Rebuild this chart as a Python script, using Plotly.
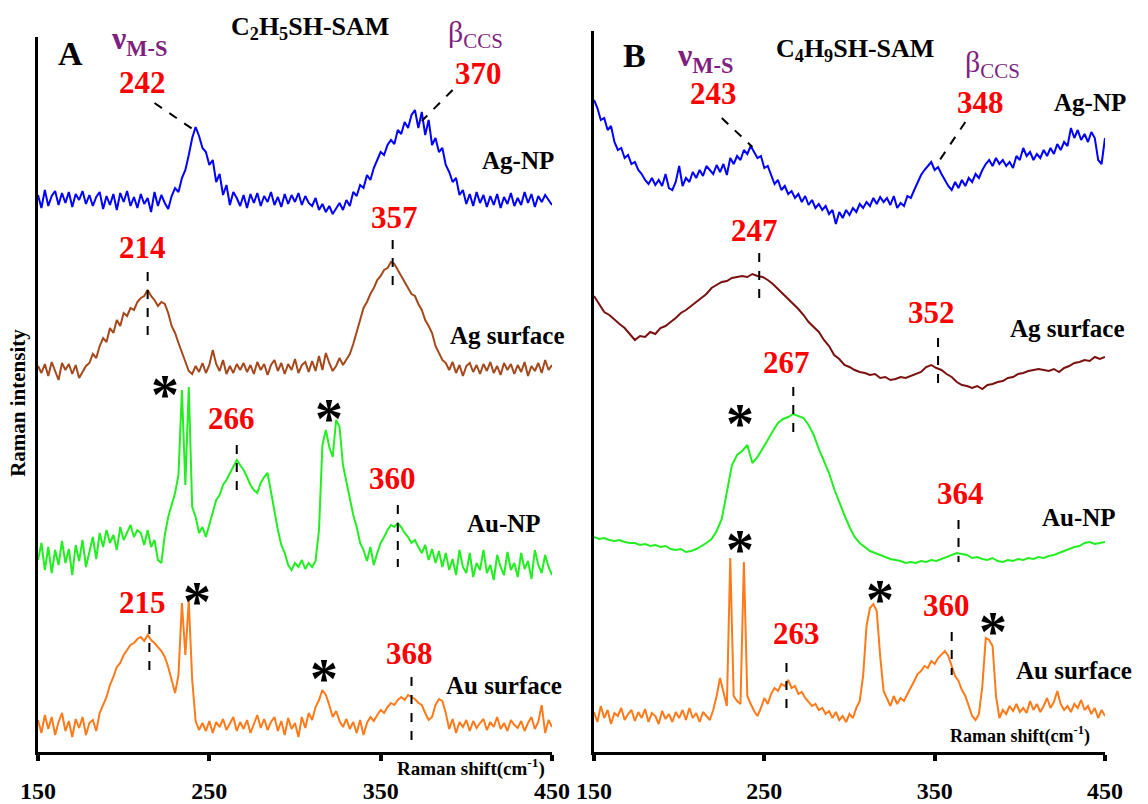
import plotly.graph_objects as go

# ---------------- data (Raman intensity, arbitrary units) ----------------
x_A = list(range(150, 451, 2))

agnp_A = [5, -8, 10, -6, 4, 9, -5, 7, -3, 8,
          -7, 6, 0, 9, -4, 5, -6, 3, 8, -9,
          4, -5, 6, -10, 7, -2, 9, -6, 3, -8,
          6, -4, 2, -12, 8, -6, 5, -3, -9, 4,
          12, 8, 22, 30, 45, 62, 73, 64, 52, 48,
          35, 40, 18, 26, 5, 15, -5, 8, 2, -6,
          5, -8, 6, -3, 7, -6, 4, -2, 8, -5,
          3, -7, 6, -4, 5, -2, 7, -5, 4, -3,
          -6, 2, -10, -4, -12, -6, -14, -8, -3, -10,
          0, -6, 8, 4, 15, 12, 25, 20, 32, 40,
          48, 45, 55, 60, 56, 70, 66, 78, 72, 85,
          90, 72, 88, 65, 80, 55, 62, 48, 52, 35,
          28, 18, 22, 5, 10, -4, 6, -6, 8, -3,
          5, -7, 4, -5, 6, -8, 3, -4, 7, -6,
          2, -5, 8, -3, 6, -7, 4, -2, 5, 0,
          -5]

agsurf_A = [2, -5, 4, -8, 6, -3, -12, 5, -2, 4,
            -6, 3, -10, -4, 2, 5, 14, 10, 22, 30,
            26, 40, 35, 48, 42, 55, 52, 60, 58, 66,
            70, 72, 78, 72, 68, 62, 66, 64, 55, 42,
            35, 25, 15, 5, -3, -6, 2, -4, 5, -5,
            3, 18, 4, -3, 8, -6, 2, -5, 4, -2,
            5, -4, 3, -6, 6, -2, 4, -7, 3, 8,
            -3, 5, -6, 4, -2, 9, -5, 3, 6, -4,
            7, -3, 12, -2, 15, 5, -3, 2, 10, 3,
            8, 14, 24, 35, 48, 60, 66, 74, 80, 88,
            92, 98, 100, 106, 104, 98, 92, 86, 80, 74,
            72, 64, 58, 48, 42, 35, 22, 15, 8, 5,
            -2, 6, -5, 3, -8, 2, 5, -4, 3, -6,
            4, -3, 6, -5, 2, -7, 5, -2, 4, -6,
            3, -4, 6, -8, 2, -3, 5, -5, 8, -2,
            3]

aunp_A = [-5, 12, -15, 8, -18, 5, -10, 14, -8, 6,
          -20, 10, -6, 15, -12, 4, 18, -4, 22, 8,
          25, 12, 20, 5, 28, 15, 22, 30, 18, 25,
          22, 10, 25, 8, 15, -5, -8, 20, 38, 50,
          62, 80, 165, 70, 168, 48, 38, 22, 28, 18,
          30, 42, 55, 60, 70, 75, 82, 88, 95, 90,
          85, 78, 70, 65, 62, 72, 78, 82, 62, 42,
          25, 10, 2, -10, -15, -8, -12, -5, -14, -8,
          -12, -6, 25, 110, 125, 108, 98, 135, 128, 90,
          72, 58, 40, 28, 12, 5, -6, 8, -10, 2,
          12, 18, 25, 30, 28, 32, 28, 22, 18, 12,
          15, 8, 2, 10, -5, 6, -8, 4, -12, 2,
          -15, -4, -20, 5, -12, -18, 2, -22, -8, -15,
          5, -18, -10, -25, 0, -12, -20, 3, -15, -8,
          -22, 2, -14, -6, -24, 5, -10, -18, 0, -12,
          -20]

ausurf_A = [5, -8, 10, -4, 8, -10, 3, 12, -6, 4,
            -12, 6, -3, 8, -10, 2, 5, -6, 12, 20,
            28, 40, 48, 58, 62, 70, 75, 80, 82, 86,
            88, 84, 90, 85, 82, 78, 74, 68, 58, 45,
            32, 50, 122, 70, 124, 45, 4, -5, 2, -6,
            4, -8, 3, -2, 6, -5, 2, 8, -6, 3,
            -4, 5, -8, 2, 10, -3, 6, -5, 3, 8,
            -6, 4, -10, 7, -4, 2, -12, 8, -3, 12,
            5, 18, 25, 35, 30, 20, 8, 14, 4, -2,
            6, -4, 3, -8, 5, -10, 2, 8, 4, 10,
            15, 12, 18, 22, 20, 25, 28, 25, 30, 28,
            26, 22, 20, 12, 5, 8, 20, 26, 24, 12,
            -4, 6, -8, 3, -2, 5, -6, 4, -3, 2,
            6, -5, 3, -2, 8, -4, 2, -6, 5, 0,
            -3, 4, -6, 2, 8, -4, 3, 20, -8, 5,
            -2]

x_B2 = list(range(150, 451, 2))
x_B3 = list(range(150, 451, 3))

agnp_B = [100, 92, 80, 82, 70, 74, 58, 50, 52, 42,
          45, 36, 38, 30, 26, 20, 16, 22, 15, 20,
          14, 26, 12, 10, 18, 34, 14, 22, 18, 28,
          22, 30, 24, 34, 30, 26, 35, 28, 36, 25,
          42, 36, 44, 40, 50, 46, 54, 48, 42, 44,
          32, 34, 24, 16, 20, 10, 14, 6, 9, 2,
          6, -2, 4, -5, 0, -8, -4, -10, -6, -14,
          -10, -24, -12, -18, -10, -15, -8, -12, -4, -8,
          -2, -6, 2, -4, 3, -2, 2, -5, 4, -8,
          -3, -6, 4, 2, 10, 18, 25, 30, 34, 38,
          30, 33, 26, 20, 14, 10, 18, 12, 20, 14,
          22, 18, 26, 22, 30, 36, 40, 34, 42, 36,
          40, 34, 38, 32, 44, 40, 52, 44, 48, 40,
          46, 42, 50, 44, 52, 46, 56, 50, 58, 54,
          72, 62, 70, 60, 66, 58, 68, 62, 40, 36,
          62]

agsurf_B = [74, 66, 58, 55, 50, 46, 42, 36, 30, 34,
            33, 38, 36, 42, 44, 48, 52, 57, 60, 64,
            68, 72, 76, 82, 85, 88, 89, 92, 93, 94,
            93, 96, 94, 93, 90, 86, 81, 76, 72, 66,
            61, 55, 48, 43, 38, 30, 24, 15, 11, 5,
            3, 0, -2, -3, -5, -4, -8, -7, -10, -9,
            -7, -8, -6, -4, -2, 3, 5, 2, 0, -4,
            -7, -12, -15, -16, -18, -16, -19, -15, -14, -12,
            -11, -8, -7, -4, -3, -1, 0, 1, 0, -1,
            1, -2, 2, 4, 7, 8, 10, 9, 13, 11,
            13]

aunp_B = [18, 16, 17, 15, 14, 15, 13, 12, 12, 10,
          11, 9, 10, 8, 9, 6, 5, 6, 3, 4,
          6, 9, 12, 16, 24, 36, 62, 90, 100, 104,
          110, 92, 98, 106, 115, 124, 132, 136, 138, 141,
          139, 137, 130, 120, 106, 94, 82, 66, 52, 40,
          28, 18, 12, 8, 4, 2, 0, -2, -4, -5,
          -6, -8, -7, -8, -6, -7, -5, -6, -4, -2,
          0, 2, 1, 0, -3, -2, -4, -5, -3, -6,
          -7, -5, -6, -4, -5, -3, -4, -2, -3, -1,
          0, 2, 4, 6, 8, 9, 12, 13, 11, 12,
          13]

ausurf_B = [4, -6, 10, -2, 6, -8, 3, 0, 8, -4,
            2, 6, -5, 4, -2, 7, -6, 3, 0, -8,
            5, -3, 2, -6, 4, -2, 6, -4, 8, -2,
            3, -6, 4, 0, -4, 6, 20, 38, 25, 10,
            158, 20, 15, 12, 154, 20, 12, 5, 0, 8,
            18, 12, 22, 28, 25, 32, 30, 36, 28, 30,
            22, 24, 18, 14, 10, 12, 6, 8, 2, 5,
            -2, 4, -4, 0, -6, 2, -2, 8, 15, 40,
            90, 108, 112, 105, 60, 25, 18, 10, 20, 12,
            18, 15, 22, 28, 35, 42, 45, 50, 48, 55,
            52, 58, 62, 65, 60, 50, 40, 35, 26, 20,
            10, 0, -4, 2, 30, 78, 76, 70, 20, -2,
            6, 2, 10, 5, 12, 4, 8, 3, 15, 6,
            12, 4, 10, 18, 8, 14, 25, 12, 6, 10,
            4, 12, 8, 16, 6, 10, 2, 8, -2, 6,
            0]

# stacking offsets of each spectrum
offset_A = {"Ag-NP": 552, "Ag surface": 384, "Au-NP": 197, "Au surface": 27}
offset_B = {"Ag-NP": 552, "Ag surface": 382, "Au-NP": 197, "Au surface": 36}

colors_A = {"Ag-NP": "#0000FF", "Ag surface": "#A5481C", "Au-NP": "#22EE22", "Au surface": "#FF7A1A"}
colors_B = {"Ag-NP": "#0000FF", "Ag surface": "#7A1010", "Au-NP": "#22EE22", "Au surface": "#FF7A1A"}

tick_vals = [150, 250, 350, 450]

FONT = "Liberation Serif"
RED = "#FF0000"
PURPLE = "#7F1F7F"

fig = go.Figure()

series_A = [("Ag-NP", x_A, agnp_A), ("Ag surface", x_A, agsurf_A),
            ("Au-NP", x_A, aunp_A), ("Au surface", x_A, ausurf_A)]
series_B = [("Ag-NP", x_B2, agnp_B), ("Ag surface", x_B3, agsurf_B),
            ("Au-NP", x_B3, aunp_B), ("Au surface", x_B2, ausurf_B)]

for name, xs, ys in series_A:
    fig.add_trace(go.Scatter(x=xs, y=[v + offset_A[name] for v in ys], mode="lines",
                             line=dict(color=colors_A[name], width=2), xaxis="x", yaxis="y",
                             showlegend=False, name=name))
for name, xs, ys in series_B:
    fig.add_trace(go.Scatter(x=xs, y=[v + offset_B[name] for v in ys], mode="lines",
                             line=dict(color=colors_B[name], width=2), xaxis="x2", yaxis="y2",
                             showlegend=False, name=name))

# ---------------- peak markers (dashed) ----------------
vlines_A = [(214, 480, 417), (357, 512, 462), (266, 307, 255), (360, 247, 185), (215, 127, 75), (368, 75, 12)]
leaders_A = [((218, 649), (241, 622)), ((392, 662), (374, 631))]
vlines_B = [(247, 499, 449), (352, 414, 369), (267, 365, 315), (364, 232, 190), (263, 89, 37), (360, 120, 77)]
leaders_B = [((225, 634), (243, 605)), ((368, 630), (351, 587))]

shapes = []
for (xv, y0, y1) in vlines_A:
    shapes.append(dict(type="line", xref="x", yref="y", x0=xv, x1=xv, y0=y0, y1=y1,
                       line=dict(color="black", width=2, dash="dash")))
for (p0, p1) in leaders_A:
    shapes.append(dict(type="line", xref="x", yref="y", x0=p0[0], y0=p0[1], x1=p1[0], y1=p1[1],
                       line=dict(color="black", width=2, dash="dash")))
for (xv, y0, y1) in vlines_B:
    shapes.append(dict(type="line", xref="x2", yref="y2", x0=xv, x1=xv, y0=y0, y1=y1,
                       line=dict(color="black", width=2, dash="dash")))
for (p0, p1) in leaders_B:
    shapes.append(dict(type="line", xref="x2", yref="y2", x0=p0[0], y0=p0[1], x1=p1[0], y1=p1[1],
                       line=dict(color="black", width=2, dash="dash")))

# ---------------- text ----------------
# (text, x, y, size, color) in data coordinates
texts_A = [
    ("<b>A</b>", 169, 699, 34, "black"),
    ("<b>242</b>", 211, 670, 31, RED),
    ("<b>370</b>", 407, 679, 31, RED),
    ("<b>Ag-NP</b>", 430, 592, 25, "black"),
    ("<b>214</b>", 211, 505, 31, RED),
    ("<b>357</b>", 358, 535, 31, RED),
    ("<b>Ag surface</b>", 424, 417, 25, "black"),
    ("<b>266</b>", 263, 334, 31, RED),
    ("<b>360</b>", 357, 274, 31, RED),
    ("<b>Au-NP</b>", 422, 229, 25, "black"),
    ("<b>215</b>", 211, 150, 31, RED),
    ("<b>368</b>", 367, 99, 31, RED),
    ("<b>Au surface</b>", 422, 67, 25, "black"),
]
stars_A = [(224, 369), (320, 345), (243, 162), (317, 85)]

texts_B = [
    ("<b>B</b>", 174, 697, 34, "black"),
    ("<b>ν<sub>M-S</sub></b>", 215, 695, 32, PURPLE),
    ("<b>C<sub>4</sub>H<sub>9</sub>SH-SAM</b>", 303, 702, 26, "black"),
    ("β<sub>CCS</sub>", 384, 688, 30, PURPLE),
    ("<b>243</b>", 220, 659, 31, RED),
    ("<b>348</b>", 377, 650, 31, RED),
    ("<b>Ag-NP</b>", 441, 650, 25, "black"),
    ("<b>247</b>", 244, 522, 31, RED),
    ("<b>352</b>", 348, 440, 31, RED),
    ("<b>Ag surface</b>", 428, 424, 25, "black"),
    ("<b>267</b>", 263, 390, 31, RED),
    ("<b>364</b>", 365, 259, 31, RED),
    ("<b>Au-NP</b>", 435, 235, 25, "black"),
    ("<b>360</b>", 357, 147, 31, RED),
    ("<b>263</b>", 269, 119, 31, RED),
    ("<b>Au surface</b>", 432, 82, 25, "black"),
    ("<b>Raman shift(cm<sup>-1</sup>)</b>", 400, 17, 18, "black"),
]
stars_B = [(236, 340), (236, 214), (318, 164), (384, 132)]

# texts placed near/outside the plotting ranges (paper coordinates): text, x, y, size, angle, color
texts_paper = [
    ("<b>C<sub>2</sub>H<sub>5</sub>SH-SAM</b>", 0.270, 0.965, 26, 0, "black"),
    ("<b>ν<sub>M-S</sub></b>", 0.1211, 0.950, 32, 0, PURPLE),
    ("β<sub>CCS</sub>", 0.4146, 0.958, 30, 0, PURPLE),
    ("<b>Raman shift(cm<sup>-1</sup>)</b>", 0.4103, 0.0448, 19, 0, "black"),
    ("<b>Raman intensity</b>", 0.0157, 0.499, 21, -90, "black"),
]

annotations = []
for (t, x, y, s, c) in texts_A:
    annotations.append(dict(text=t, x=x, y=y, xref="x", yref="y", showarrow=False,
                            xanchor="center", yanchor="middle",
                            font=dict(family=FONT, size=s, color=c)))
for (t, x, y, s, c) in texts_B:
    annotations.append(dict(text=t, x=x, y=y, xref="x2", yref="y2", showarrow=False,
                            xanchor="center", yanchor="middle",
                            font=dict(family=FONT, size=s, color=c)))
for (x, y) in stars_A:
    annotations.append(dict(text="<b>*</b>", x=x, y=y, xref="x", yref="y", showarrow=False,
                            xanchor="center", yanchor="middle", yshift=-12,
                            font=dict(family=FONT, size=56, color="black")))
for (x, y) in stars_B:
    annotations.append(dict(text="<b>*</b>", x=x, y=y, xref="x2", yref="y2", showarrow=False,
                            xanchor="center", yanchor="middle", yshift=-12,
                            font=dict(family=FONT, size=56, color="black")))
for (t, x, y, s, ang, c) in texts_paper:
    annotations.append(dict(text=t, x=x, y=y, xref="paper", yref="paper", showarrow=False,
                            xanchor="center", yanchor="middle", textangle=ang,
                            font=dict(family=FONT, size=s, color=c)))

xaxis_common = dict(range=[150, 450], tickvals=tick_vals, ticks="outside", ticklen=6, tickwidth=4,
                    tickcolor="black", showline=True, linewidth=3, linecolor="black",
                    showgrid=False, zeroline=False, ticklabelstandoff=9, automargin=False,
                    tickfont=dict(family=FONT, size=24, color="black", weight="bold"))
yaxis_common = dict(showline=True, linewidth=2.5, linecolor="black", showgrid=False, zeroline=False,
                    showticklabels=False, ticks="", automargin=False)

fig.update_layout(
    template="none",
    width=1148, height=804, margin=dict(l=0, r=0, t=0, b=0, pad=0, autoexpand=False),
    paper_bgcolor="white", plot_bgcolor="white", showlegend=False,
    xaxis=dict(domain=[38 / 1148, 552 / 1148], anchor="y", **xaxis_common),
    yaxis=dict(domain=[52 / 804, 767 / 804], range=[0, 715], anchor="x", **yaxis_common),
    xaxis2=dict(domain=[594 / 1148, 1105 / 1148], anchor="y2", **xaxis_common),
    yaxis2=dict(domain=[52 / 804, 773 / 804], range=[0, 721], anchor="x2", **yaxis_common),
    shapes=shapes, annotations=annotations,
)

fig.write_html("out.html")
